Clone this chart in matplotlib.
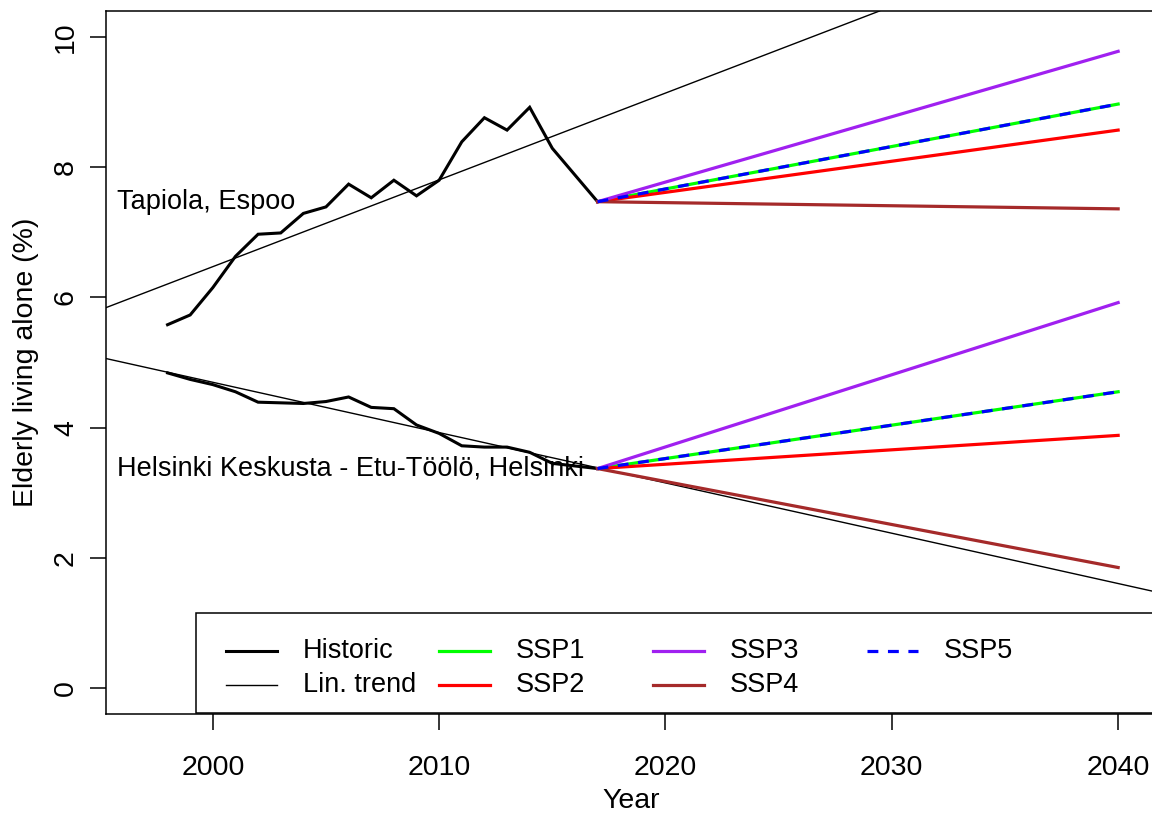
import numpy as np
import matplotlib.pyplot as plt
from matplotlib.patches import Rectangle
from matplotlib.lines import Line2D

plt.rcParams['font.family'] = ['Liberation Sans', 'DejaVu Sans']

years = list(range(1998, 2018))
tapiola = [5.58, 5.73, 6.15, 6.63, 6.97, 6.99, 7.29, 7.39, 7.74, 7.53,
           7.80, 7.56, 7.80, 8.39, 8.76, 8.57, 8.92, 8.29, 7.88, 7.47]
helsinki = [4.84, 4.74, 4.66, 4.55, 4.39, 4.38, 4.37, 4.40, 4.47, 4.31,
            4.29, 4.04, 3.91, 3.72, 3.70, 3.70, 3.62, 3.45, 3.41, 3.37]
area_names = ["Tapiola, Espoo", "Helsinki Keskusta - Etu-Töölö, Helsinki"]

# scenario projections, from 2017 to 2040
proj_years = [2017, 2040]
scenarios = ["SSP1", "SSP2", "SSP3", "SSP4", "SSP5"]
tapiola_2040 = [8.97, 8.57, 9.78, 7.36, 8.97]
helsinki_2040 = [4.55, 3.88, 5.92, 1.85, 4.55]

ssp_cols = ["#00FF00", "#FF0000", "#A020F0", "#A52A2A", "#0000FF"]
ssp_styles = ["-", "-", "-", "-", "--"]
fs = 20.5
fs_txt = 19.5

fig = plt.figure(figsize=(11.52, 8.13), dpi=100)
ax = fig.add_axes([0.092, 0.1218, 0.9124, 0.8647])
ax.set_xlim(1995.28, 2041.72)
ax.set_ylim(-0.4, 10.4)

for series, ends, name in [(tapiola, tapiola_2040, area_names[0]),
                           (helsinki, helsinki_2040, area_names[1])]:
    ax.plot(years, series, color='black', lw=2.2, solid_joinstyle='miter')
    k, b = np.polyfit(years, series, 1)
    ax.axline((2000, k * 2000 + b), slope=k, color='black', lw=1.0)
    for end, col, ls in zip(ends, ssp_cols, ssp_styles):
        l, = ax.plot(proj_years, [series[-1], end], color=col, lw=2.3, ls=ls)
        if ls == "--":
            l.set_dashes((3.4, 3.0))
    ax.text(1995.76, series[-1], name, ha='left', va='center', fontsize=fs_txt)

# legend box, drawn by hand in axes coordinates
leg_labels = ["Historic", "Lin. trend"] + scenarios
leg_cols = ["black", "black"] + ssp_cols
leg_lw = [2.2, 1.0, 2.3, 2.3, 2.3, 2.3, 2.3]
leg_ls = ["-", "-"] + ssp_styles
ax.add_patch(Rectangle((0.0856, 0.0014), 1.0, 0.1423, transform=ax.transAxes,
                       facecolor='white', edgecolor='black', lw=1.1, zorder=5))
col_x = [0.1142, 0.3168, 0.5205, 0.7241]
row_y = [0.0896, 0.0413]
for i, (lab, c, lw, ls) in enumerate(zip(leg_labels, leg_cols, leg_lw, leg_ls)):
    x0 = col_x[i // 2]
    y0 = row_y[i % 2]
    h = Line2D([x0, x0 + 0.0485], [y0, y0], color=c, lw=lw, ls=ls,
               transform=ax.transAxes, zorder=6)
    if ls == "--":
        h.set_dashes((3.4, 3.0))
    ax.add_line(h)
    ax.text(x0 + 0.0732, y0, lab, transform=ax.transAxes, ha='left', va='center',
            fontsize=fs_txt, zorder=6)

ax.set_xticks([2000, 2010, 2020, 2030, 2040])
ax.set_yticks([0, 2, 4, 6, 8, 10])
ax.tick_params(axis='both', direction='out', length=11.5, width=1.1, labelsize=fs)
ax.tick_params(axis='x', pad=18)
ax.tick_params(axis='y', pad=8)
for t in ax.get_yticklabels():
    t.set_rotation(90)
    t.set_va('center')
for s in ax.spines.values():
    s.set_linewidth(1.1)

ax.set_xlabel("Year", fontsize=fs)
ax.set_ylabel("Elderly living alone (%)", fontsize=fs)
ax.xaxis.set_label_coords(0.5, -0.105)
ax.yaxis.set_label_coords(-0.064, 0.5)

fig.savefig("out.png", dpi=100)
